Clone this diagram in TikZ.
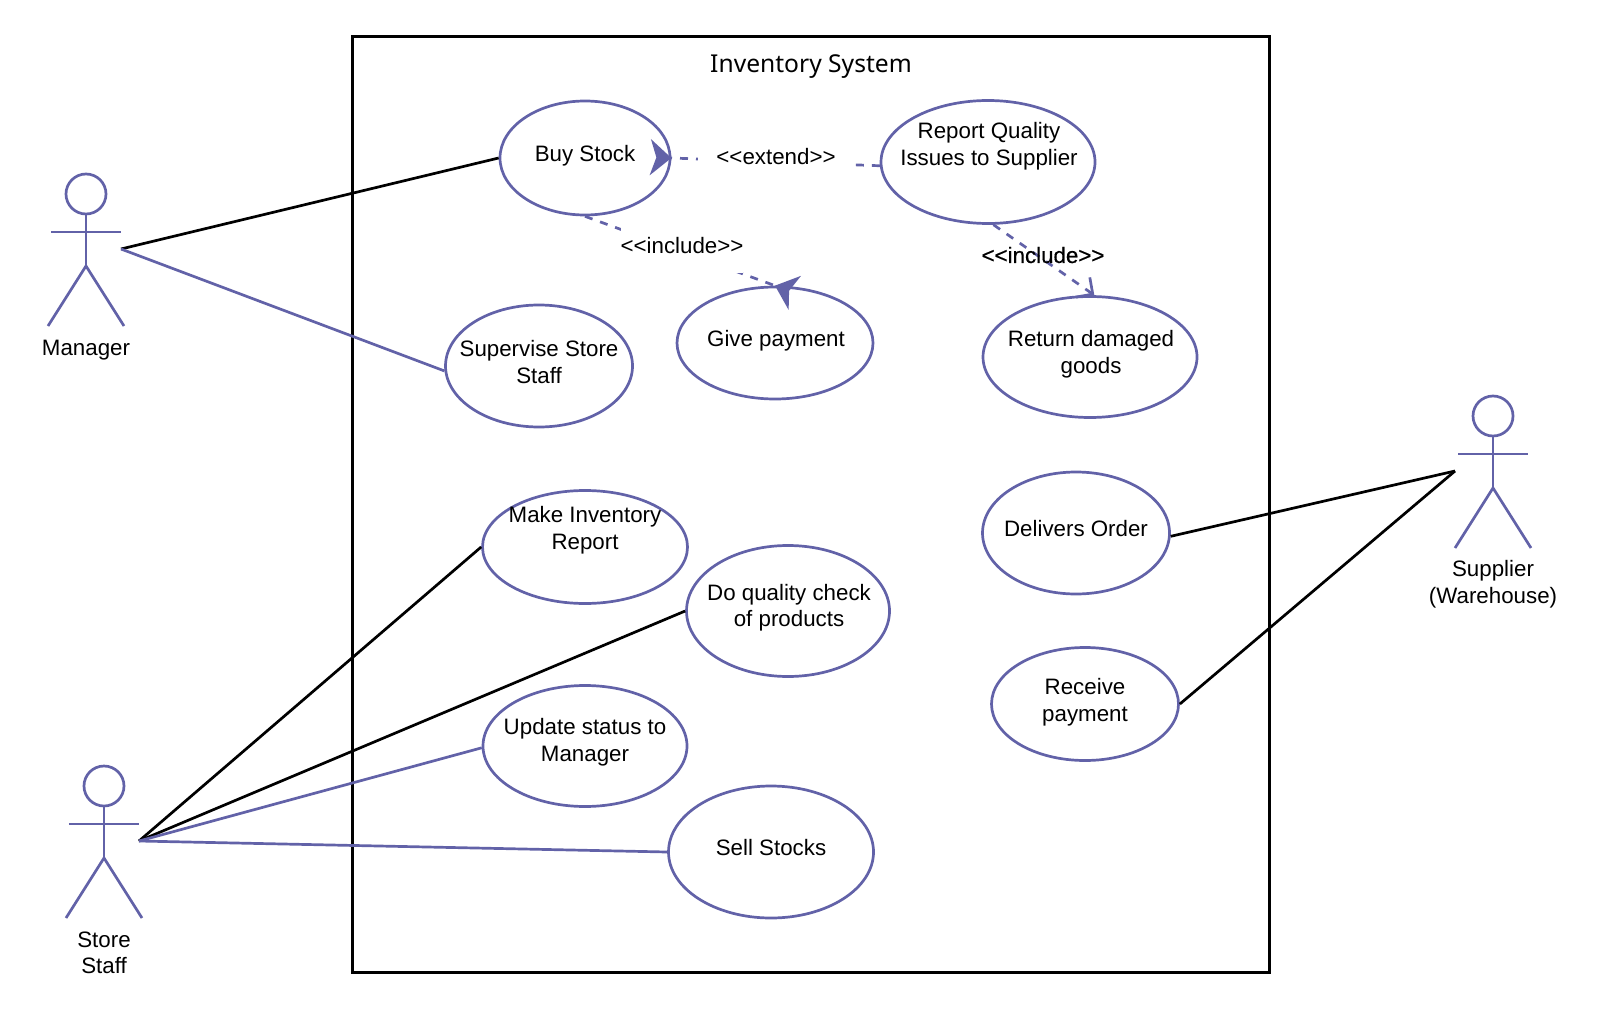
\documentclass[tikz,border=0pt]{standalone}
\usepackage{fontspec}
\setmainfont{Liberation Sans}
\newfontfamily\titlefont{Noto Sans}
\newfontfamily\heavyfont[FakeBold=0.5]{Liberation Sans}
\usetikzlibrary{shapes.geometric, arrows.meta}

\definecolor{caseblue}{RGB}{98,98,168}

\tikzset{
    usecase/.style={draw=caseblue, ellipse, line width=0.27mm, inner sep=0pt},
    casetext/.style={font=\fontsize{6.35}{7.55}\selectfont, align=center, inner sep=0pt},
    actorline/.style={draw=caseblue, line width=0.27mm},
    blackwire/.style={draw=black, line width=0.27mm},
    bluewire/.style={draw=caseblue, line width=0.27mm},
    depends/.style={draw=caseblue, line width=0.27mm, dash pattern=on 0.8mm off 0.8mm},
    fishtip/.style={-{Stealth[reversed, length=2.1mm, width=3.6mm, inset=0.6mm, fill=caseblue]}, shorten >=-2.1mm},
    openline/.style={-{Straight Barb[length=1.2mm, width=2.4mm]}},
    stereotype/.style={casetext, fill=white, text height=2.5mm, text depth=2mm},
    stickman/.pic={
        \draw[actorline] (0, 0) circle (0.2);
        \draw[actorline] (0, -0.2) -- (0, -0.72);
        \draw[actorline] (-0.35, -0.38) -- (0.35, -0.38);
        \draw[actorline] (-0.38, -1.32) -- (0, -0.72) -- (0.38, -1.32);
    }
}

\begin{document}
\begin{tikzpicture}
    \useasboundingbox (0, 0) rectangle (16, 10.27);

    % system boundary
    \draw[line width=0.3mm] (3.52, 0.55) rectangle (12.69, 9.90);
    \node[inner sep=0pt, font=\titlefont\fontsize{7}{8}\selectfont] (systemtitle) at (8.11, 9.60) {Inventory System};

    % actors
    \pic at (0.86, 8.33) {stickman};
    \pic at (1.04, 2.41) {stickman};
    \pic at (14.93, 6.11) {stickman};
    \node[casetext] (managername) at (0.86, 6.77) {Manager};
    \node[casetext] (staffname) at (1.04, 0.74) {Store\\Staff};
    \node[casetext] (suppliername) at (14.93, 4.43) {Supplier\\(Warehouse)};
    \coordinate (managerhand) at (1.21, 7.78);
    \coordinate (staffhand) at (1.39, 1.86);
    \coordinate (supplierhand) at (14.55, 5.56);

    % use cases
    \node[usecase, minimum width=1.70cm, minimum height=1.14cm] (buy) at (5.85, 8.69) {};
    \node[usecase, minimum width=2.14cm, minimum height=1.23cm] (report) at (9.88, 8.65) {};
    \node[usecase, minimum width=1.87cm, minimum height=1.22cm] (supervise) at (5.39, 6.61) {};
    \node[usecase, minimum width=1.96cm, minimum height=1.12cm] (give) at (7.75, 6.84) {};
    \node[usecase, minimum width=2.14cm, minimum height=1.21cm] (return) at (10.90, 6.70) {};
    \node[usecase, minimum width=2.05cm, minimum height=1.13cm] (make) at (5.85, 4.80) {};
    \node[usecase, minimum width=2.03cm, minimum height=1.31cm] (quality) at (7.88, 4.16) {};
    \node[usecase, minimum width=2.04cm, minimum height=1.21cm] (update) at (5.85, 2.81) {};
    \node[usecase, minimum width=2.05cm, minimum height=1.32cm] (sell) at (7.71, 1.75) {};
    \node[usecase, minimum width=1.87cm, minimum height=1.22cm] (delivers) at (10.76, 4.94) {};
    \node[usecase, minimum width=1.87cm, minimum height=1.13cm] (receive) at (10.85, 3.23) {};

    % use case texts
    \node[casetext] (buytext) at (5.85, 8.71) {Buy Stock};
    \node[casetext] (reporttext) at (9.89, 8.81) {Report Quality\\Issues to Supplier};
    \node[casetext] (supervisetext) at (5.39, 6.65) {Supervise Store\\Staff};
    \node[casetext] (givetext) at (7.76, 6.86) {Give payment};
    \node[casetext] (returntext) at (10.91, 6.73) {Return damaged\\goods};
    \node[casetext] (maketext) at (5.85, 4.97) {Make Inventory\\Report};
    \node[casetext] (qualitytext) at (7.89, 4.195) {Do quality check\\of products};
    \node[casetext] (updatetext) at (5.85, 2.85) {Update status to\\Manager};
    \node[casetext] (selltext) at (7.71, 1.79) {Sell Stocks};
    \node[casetext] (deliverstext) at (10.76, 4.98) {Delivers Order};
    \node[casetext] (receivetext) at (10.85, 3.25) {Receive\\payment};

    % associations
    \draw[blackwire] (managerhand) -- (buy.west);
    \draw[bluewire] (managerhand) -- (supervise.183);
    \draw[blackwire] (staffhand) -- (make.west);
    \draw[blackwire] (staffhand) -- (quality.west);
    \draw[bluewire] (staffhand) -- (update.181);
    \draw[bluewire] (staffhand) -- (sell.west);
    \draw[blackwire] (delivers.-2) -- (supplierhand);
    \draw[blackwire] (receive.east) -- (supplierhand);

    % dependencies
    \draw[depends, fishtip] (report.182) -- (buy.east);
    \draw[depends, fishtip] (buy.south) -- (give.north);
    \draw[depends, openline] (report.-85) -- (return.86);

    % stereotypes
    \node[stereotype, minimum width=1.56cm] (extendlabel) at (7.76, 8.65) {<{}<extend>{}>};
    \node[stereotype, minimum width=1.20cm] (givelabel) at (6.82, 7.76) {<{}<include>{}>};
    \node[casetext, font=\heavyfont\fontsize{6.35}{7.55}\selectfont] (returnlabel) at (10.43, 7.72) {<{}<include>{}>};
\end{tikzpicture}
\end{document}
